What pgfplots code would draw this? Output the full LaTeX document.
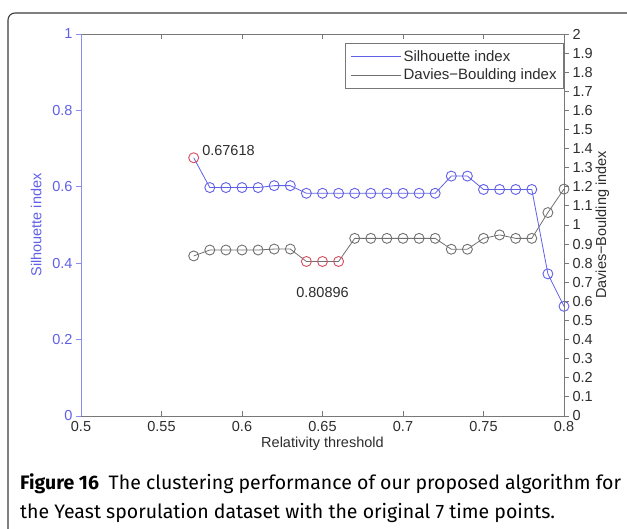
\documentclass[border=0pt]{standalone}
\usepackage{fontspec}
\setmainfont{Liberation Sans}
\newfontfamily\capfont{Fira Sans}
\usepackage{pgfplots}
\pgfplotsset{compat=1.18}
\usepackage{pgfplotstable}

\definecolor{silb}{RGB}{95,95,232}
\definecolor{silaxis}{RGB}{140,140,238}
\definecolor{dbg}{RGB}{112,112,112}
\definecolor{hired}{RGB}{215,75,95}
\definecolor{frame}{RGB}{120,120,120}
\definecolor{txt}{RGB}{45,45,45}
\definecolor{boxc}{RGB}{60,60,60}

\pgfplotstableread{
x sil db
0.57 0.676 0.838
0.58 0.598 0.869
0.59 0.598 0.869
0.60 0.598 0.869
0.61 0.598 0.869
0.62 0.603 0.874
0.63 0.603 0.874
0.64 0.583 0.809
0.65 0.583 0.809
0.66 0.583 0.809
0.67 0.583 0.930
0.68 0.583 0.930
0.69 0.583 0.930
0.70 0.583 0.930
0.71 0.583 0.930
0.72 0.583 0.930
0.73 0.628 0.873
0.74 0.628 0.873
0.75 0.593 0.930
0.76 0.593 0.948
0.77 0.593 0.930
0.78 0.593 0.930
0.79 0.372 1.065
0.80 0.287 1.188
}\datatab

\pgfplotstableread{
x sil
0.57 0.676
}\silred

\pgfplotstableread{
x db
0.64 0.809
0.65 0.809
0.66 0.809
}\dbred

\def\chartfont{\fontsize{14.5}{17}\selectfont}
\def\legfont{\fontsize{15}{17}\selectfont}
\def\capfs{\fontsize{19.5}{23}\selectfont}

\begin{document}
\begin{tikzpicture}
% outer rounded frame (extends beyond the visible page on right and bottom)
\draw[boxc, line width=1.1pt, rounded corners=7pt] (8pt,-40pt) rectangle (660pt,516pt);

\begin{axis}[
  at={(81pt,113pt)}, anchor=south west,
  scale only axis, width=483pt, height=382pt,
  xmin=0.5, xmax=0.8, ymin=0, ymax=1,
  axis x line*=box, axis y line*=left,
  separate axis lines,
  x axis line style={frame, line width=0.9pt},
  y axis line style={silaxis, line width=0.9pt},
  xtick={0.5,0.55,0.6,0.65,0.7,0.75,0.8},
  ytick={0,0.2,0.4,0.6,0.8,1},
  xtick align=inside, ytick align=outside,
  major tick length=5pt,
  x tick style={frame, line width=0.8pt},
  y tick style={silaxis, line width=0.8pt},
  /pgf/number format/assume math mode=true,
  xticklabel style={font=\chartfont, text=txt, yshift=-2pt},
  yticklabel style={font=\chartfont, text=silb},
  xlabel={Relativity threshold},
  ylabel={Silhouette index},
  xlabel style={font=\chartfont, text=txt, yshift=2pt},
  ylabel style={font=\chartfont, text=silb, yshift=4pt},
  legend style={at={(rel axis cs:1.0,0.9764)}, anchor=north east,
    draw=frame, line width=0.8pt, font=\legfont, text=txt,
    inner xsep=5pt, inner ysep=5pt, row sep=2pt},
  legend cell align=left,
  legend image code/.code={\path (-3pt,0pt) -- (47pt,0pt); \draw[#1] (0pt,0pt) -- (43pt,0pt);},
  clip=false,
]
\addlegendimage{silb, line width=0.9pt}
\addlegendentry{Silhouette index}
\addlegendimage{dbg, line width=0.9pt}
\addlegendentry{Davies−Boulding index}

\addplot[silb, line width=0.8pt, mark=none, forget plot] table[x=x, y=sil] {\datatab};
\addplot[silb, line width=0.9pt, only marks, mark=o, mark size=5pt, forget plot,
  skip coords between index={0}{1}] table[x=x, y=sil] {\datatab};
\addplot[hired, line width=0.9pt, only marks, mark=o, mark size=5pt, forget plot] table[x=x, y=sil] {\silred};

\node[anchor=west, inner sep=0pt, font=\chartfont, text=txt] at (axis cs:0.5752,0.6945) {0.67618};
\node[anchor=center, inner sep=0pt, font=\chartfont, text=txt] at (axis cs:0.650,0.3238) {0.80896};
\end{axis}

\begin{axis}[
  at={(81pt,113pt)}, anchor=south west,
  scale only axis, width=483pt, height=382pt,
  xmin=0.5, xmax=0.8, ymin=0, ymax=2,
  axis x line=none, axis y line*=right,
  y axis line style={frame, line width=0.9pt},
  ytick={0,0.1,0.2,0.3,0.4,0.5,0.6,0.7,0.8,0.9,1,1.1,1.2,1.3,1.4,1.5,1.6,1.7,1.8,1.9,2},
  ytick align=outside,
  major tick length=5pt,
  y tick style={frame, line width=0.8pt},
  /pgf/number format/assume math mode=true,
  yticklabel style={font=\chartfont, text=txt},
  ylabel={Davies−Boulding index},
  ylabel style={font=\chartfont, text=txt, yshift=4pt},
  clip=false,
]
\addplot[dbg, line width=0.8pt, mark=none] table[x=x, y=db] {\datatab};
\addplot[dbg, line width=0.9pt, only marks, mark=o, mark size=5pt,
  skip coords between index={7}{10}] table[x=x, y=db] {\datatab};
\addplot[hired, line width=0.9pt, only marks, mark=o, mark size=5pt] table[x=x, y=db] {\dbred};
\end{axis}

% caption
\node[anchor=base west, inner sep=0pt, text=black] at (20pt,39pt)
  {\capfont\capfs\textbf{Figure 16}\hspace{0.5em}The clustering performance of our proposed algorithm for};
\node[anchor=base west, inner sep=0pt, text=black] at (20pt,10pt)
  {\capfont\capfs the Yeast sporulation dataset with the original 7 time points.};

\pgfresetboundingbox
\path[use as bounding box] (0pt,0pt) rectangle (627pt,529pt);
\end{tikzpicture}
\end{document}
